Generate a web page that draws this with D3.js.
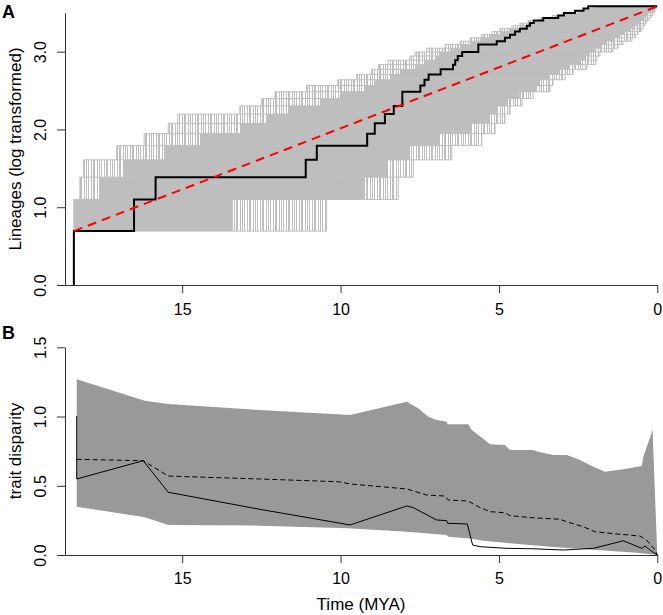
<!DOCTYPE html>
<html><head><meta charset="utf-8">
<script src="https://cdn.jsdelivr.net/npm/d3@7"></script>
<style>body{margin:0;background:#fff} text{font-family:"Liberation Sans",Arial,Helvetica,sans-serif}</style>
</head><body><svg id="c" width="663" height="615"></svg>
<script>
// ---------- data ----------
const timeTicks = [15, 10, 5, 0];
const lttTicks = [0, 1, 2, 3];
const dispTicks = [0, 0.5, 1, 1.5];

// observed lineage-through-time (time in MYA at which count reaches n)
const obsLineages = d3.range(1, 37);
const obsTimes = [18.42,18.42,16.52,15.84,11.10,10.75,9.16,8.92,8.60,8.32,8.05,8.05,7.48,7.35,7.22,6.84,6.45,6.38,6.30,6.16,5.65,5.65,5.07,4.81,4.65,4.49,4.34,4.12,4.02,3.90,3.60,3.13,2.95,2.60,2.33,2.18];

// simulated LTT envelope per lineage level
const simLevels = d3.range(2, 37);
const simFirstTime = [18.42,18.42,18.23,18.12,17.07,16.20,15.44,15.14,13.18,12.49,12.07,11.07,10.09,9.49,9.02,8.81,8.50,7.81,7.65,7.28,6.70,6.23,5.91,5.54,5.22,4.97,4.59,4.34,4.08,3.70,3.32,2.91,2.50,2.28,2.06];
const simLastTime = [10.44,8.18,7.70,6.49,5.54,5.12,4.81,4.65,4.27,3.92,3.39,3.29,2.91,2.66,2.22,1.94,1.90,1.81,1.40,1.24,1.08,0.80,0.70,0.61,0.51,0.45,0.39,0.33,0.26,0.20,0.14,0.10,0.07,0.03,0];
// dense core of simulated branching times between level n and n+1
const coreLevels = d3.range(2, 36);
const simCoreFrom = [18.42,17.60,16.87,15.54,14.44,13.18,12.32,11.60,10.65,9.96,9.23,8.91,8.44,8.12,7.65,7.34,7.02,6.86,6.55,6.23,5.91,5.60,5.28,4.97,4.65,4.34,4.08,3.86,3.55,3.23,2.91,2.45,2.28,1.97];
const simCoreTo = [13.40,9.23,8.50,7.81,6.86,5.91,5.28,5.06,4.75,4.34,3.86,3.70,3.39,3.07,2.76,2.44,2.28,2.13,1.97,1.81,1.59,1.34,1.18,1.02,0.86,0.70,0.61,0.51,0.42,0.36,0.29,0.23,0.17,0.07];

// expected (pure-birth) line
const expTimes = [18.42, 0];
const expLineages = [2, 36];

// disparity through time
const dttUpperTimes = [18.33,16.18,15.44,12.55,9.70,7.91,7.55,7.23,6.97,6.65,6.62,5.97,5.86,5.65,5.28,4.81,4.65,3.92,3.76,3.28,2.86,2.44,2.02,1.65,1.07,0.49,0.44,0.15,0];
const dttUpper = [1.269,1.114,1.09,1.047,1.011,1.107,1.059,0.999,0.975,0.963,0.944,0.944,0.903,0.866,0.799,0.794,0.758,0.758,0.746,0.722,0.722,0.686,0.638,0.601,0.619,0.643,0.710,0.903,0];
const dttLowerTimes = [18.33,16.18,15.44,12.55,9.76,7.91,6.65,6.60,5.91,5.49,4.65,3.39,1.91,0.65,0];
const dttLower = [0.349,0.272,0.217,0.212,0.193,0.168,0.144,0.132,0.120,0.103,0.084,0.060,0.036,0.017,0];
const dttMedianTimes = [18.33,16.23,15.44,12.55,10.07,9.70,7.91,7.28,6.71,6.60,5.97,5.65,5.28,4.81,4.65,3.92,3.07,2.86,2.33,1.97,1.28,0.55,0.34,0.07,0];
const dttMedian = [0.691,0.681,0.570,0.549,0.529,0.513,0.477,0.433,0.426,0.397,0.390,0.349,0.313,0.305,0.284,0.269,0.258,0.240,0.204,0.168,0.152,0.137,0.108,0.036,0];
const dttObsTimes = [18.33,18.33,16.23,15.44,12.55,9.70,7.91,7.70,6.97,6.65,6.62,6.00,5.83,5.60,4.74,3.92,2.97,2.02,1.60,1.07,0.49,0.39,0.23,0];
const dttObs = [1.004,0.549,0.681,0.453,0.330,0.217,0.354,0.342,0.253,0.248,0.229,0.224,0.072,0.060,0.048,0.045,0.036,0.048,0.072,0.103,0.048,0.065,0.036,0];

// ---------- drawing ----------
const svg = d3.select("#c");
const FS = 16, TFS = 17;
const x = d3.scaleLinear().domain([18.7, 0]).range([65, 657.3]);
const yA = d3.scaleLinear().domain([0, 3.5]).range([285, 12.8]);
const yB = d3.scaleLinear().domain([0, 1.5]).range([555, 347.3]);
const ln = Math.log;
const SIMC = "#BEBEBE";

// striped pattern imitating sparse overlapping simulated step lines
const defs = svg.append("defs");
const pat = defs.append("pattern").attr("id", "sparse").attr("patternUnits", "userSpaceOnUse")
  .attr("width", 13).attr("height", 40);
[[0, 1], [2, 2], [6, 1], [8, 1], [10, 1]].forEach(([px, pw]) =>
  pat.append("rect").attr("x", px).attr("y", 0).attr("width", pw).attr("height", 40).attr("fill", SIMC));

// Panel A: simulated band
const gA = svg.append("g");
coreLevels.forEach((n, i) => {
  const yTop = yA(ln(n + 1)), yBot = yA(ln(n));
  const outerL = x(simFirstTime[i + 1]), outerR = x(simLastTime[i]);
  gA.append("rect").attr("x", outerL).attr("y", yTop).attr("width", Math.max(0, outerR - outerL)).attr("height", yBot - yTop).attr("fill", "url(#sparse)");
  const cL = x(simCoreFrom[i]), cR = x(simCoreTo[i]);
  gA.append("rect").attr("x", cL).attr("y", yTop).attr("width", Math.max(0, cR - cL)).attr("height", yBot - yTop).attr("fill", SIMC);
  [outerL, outerR].forEach(xx => gA.append("line").attr("x1", xx).attr("x2", xx).attr("y1", yTop).attr("y2", yBot).attr("stroke", SIMC).attr("stroke-width", 1));
});
simLevels.forEach((n, i) => {
  gA.append("line").attr("x1", x(simFirstTime[i])).attr("x2", x(simLastTime[i]))
    .attr("y1", yA(ln(n))).attr("y2", yA(ln(n))).attr("stroke", SIMC).attr("stroke-width", 1);
});

// observed step line
const obsPts = obsTimes.map((t, i) => [t, ln(obsLineages[i])]).concat([[0, ln(36)]]);
gA.append("path").datum(obsPts)
  .attr("d", d3.line().x(d => x(d[0])).y(d => yA(d[1])).curve(d3.curveStepAfter))
  .attr("fill", "none").attr("stroke", "#000").attr("stroke-width", 2);
// expected dashed line
gA.append("path").datum(expTimes.map((t, i) => [t, ln(expLineages[i])]))
  .attr("d", d3.line().x(d => x(d[0])).y(d => yA(d[1])))
  .attr("fill", "none").attr("stroke", "#FF0000").attr("stroke-width", 2).attr("stroke-dasharray", "9,6");

// axes A
function styleAxis(g) {
  g.selectAll("path,line").attr("stroke", "#333").attr("stroke-width", 1);
  g.selectAll("text").attr("fill", "#000").style("font-size", FS + "px").attr("font-family", null);
}
const axA = svg.append("g").attr("transform", "translate(0,285)")
  .call(d3.axisBottom(x).tickValues(timeTicks).tickSize(8).tickSizeOuter(0).tickPadding(10.5).tickFormat(d3.format("d")));
styleAxis(axA);
const ayA = svg.append("g").attr("transform", "translate(65,0)")
  .call(d3.axisLeft(yA).tickValues(lttTicks).tickSize(8).tickSizeOuter(0).tickFormat(d3.format(".1f")));
styleAxis(ayA);
ayA.selectAll(".tick text").attr("transform", "rotate(-90)").attr("x", 0).attr("y", -19.5).attr("dy", 0).attr("text-anchor", "middle");

svg.append("text").attr("transform", "translate(21,149) rotate(-90)").attr("text-anchor", "middle").style("font-size", TFS + "px").text("Lineages (log transformed)");
svg.append("text").attr("x", 2).attr("y", 18).style("font-size", "18px").style("font-weight", "bold").text("A");

// Panel B
const gB = svg.append("g");
const polyPts = dttUpperTimes.map((t, i) => [t, dttUpper[i]])
  .concat(dttLowerTimes.map((t, i) => [t, dttLower[i]]).reverse());
gB.append("path").datum(polyPts)
  .attr("d", d3.line().x(d => x(d[0])).y(d => yB(d[1])).curve(d3.curveLinearClosed))
  .attr("fill", "#999999").attr("stroke", "none");
gB.append("path").datum(dttMedianTimes.map((t, i) => [t, dttMedian[i]]))
  .attr("d", d3.line().x(d => x(d[0])).y(d => yB(d[1])))
  .attr("fill", "none").attr("stroke", "#000").attr("stroke-width", 1).attr("stroke-dasharray", "5,3");
gB.append("path").datum(dttObsTimes.map((t, i) => [t, dttObs[i]]))
  .attr("d", d3.line().x(d => x(d[0])).y(d => yB(d[1])))
  .attr("fill", "none").attr("stroke", "#000").attr("stroke-width", 1);

const axB = svg.append("g").attr("transform", "translate(0,555)")
  .call(d3.axisBottom(x).tickValues(timeTicks).tickSize(8).tickSizeOuter(0).tickPadding(9.5).tickFormat(d3.format("d")));
styleAxis(axB);
const ayB = svg.append("g").attr("transform", "translate(65,0)")
  .call(d3.axisLeft(yB).tickValues(dispTicks).tickSize(8).tickSizeOuter(0).tickFormat(d3.format(".1f")));
styleAxis(ayB);
ayB.selectAll(".tick text").attr("transform", "rotate(-90)").attr("x", 0).attr("y", -19.5).attr("dy", 0).attr("text-anchor", "middle");

svg.append("text").attr("transform", "translate(21,451) rotate(-90)").attr("text-anchor", "middle").style("font-size", TFS + "px").text("trait disparity");
svg.append("text").attr("x", 361).attr("y", 610).attr("text-anchor", "middle").style("font-size", TFS + "px").text("Time (MYA)");
svg.append("text").attr("x", 2).attr("y", 339).style("font-size", "18px").style("font-weight", "bold").text("B");
</script></body></html>
